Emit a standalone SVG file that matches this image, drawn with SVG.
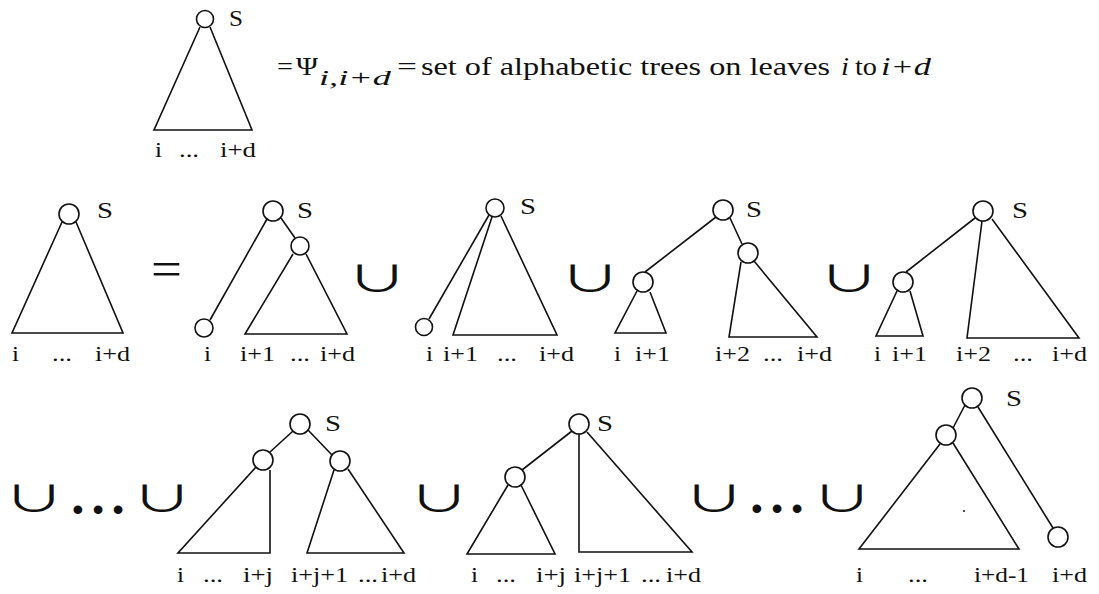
<svg xmlns="http://www.w3.org/2000/svg" width="1099" height="594" viewBox="0 0 1099 594">
<style>
  .e { fill: none; stroke: #111; stroke-width: 1.6; stroke-linejoin: miter; }
  .n { fill: #fff; stroke: #111; stroke-width: 1.6; }
  .t { font-family: "Liberation Serif", "Times New Roman", serif; font-size: 22px; fill: #111; }
  .s { font-family: "Liberation Serif", "Times New Roman", serif; font-size: 23px; fill: #111; }
  .q { font-family: "Liberation Serif", "Times New Roman", serif; font-size: 25px; fill: #111; }
  .it { font-style: italic; }
  .u { font-family: "Noto Sans CJK JP", "DejaVu Sans", sans-serif; font-size: 44px; fill: #111; text-anchor: middle; }
  .d { font-family: "Liberation Sans", sans-serif; font-size: 32px; fill: #111; text-anchor: middle; }
</style>
<rect width="1099" height="594" fill="#fff"/>

<!-- Top definition -->
<g id="def-tree">
  <path class="e" d="M200,27 L154,130 L252,130 L210,27"/>
  <circle class="n" cx="205" cy="19" r="8.5"/>
  <text class="s" x="229" y="26" textLength="14" lengthAdjust="spacingAndGlyphs">S</text>
  <text class="t" x="155" y="157" textLength="7" lengthAdjust="spacingAndGlyphs">i</text>
  <text class="t" x="179" y="157" textLength="20" lengthAdjust="spacingAndGlyphs">...</text>
  <text class="t" x="220" y="157" textLength="36" lengthAdjust="spacingAndGlyphs">i+d</text>
</g>
<g id="def-text">
  <text class="q" x="277" y="75" textLength="16" lengthAdjust="spacingAndGlyphs">=</text>
  <text class="q" x="296" y="75" textLength="22" lengthAdjust="spacingAndGlyphs">Ψ</text>
  <text class="t it" x="319" y="85" textLength="72" lengthAdjust="spacingAndGlyphs">i,i+d</text>
  <text class="q" x="397" y="75" textLength="20" lengthAdjust="spacingAndGlyphs">=</text>
  <text class="q" x="421" y="75" textLength="409" lengthAdjust="spacingAndGlyphs">set of alphabetic trees on leaves</text>
  <text class="q it" x="841" y="75" textLength="8" lengthAdjust="spacingAndGlyphs">i</text>
  <text class="q" x="855" y="75" textLength="22" lengthAdjust="spacingAndGlyphs">to</text>
  <text class="q it" x="881" y="75" textLength="50" lengthAdjust="spacingAndGlyphs">i+d</text>
</g>

<!-- Row 2 -->
<g id="tree-A">
  <path class="e" d="M62,222 L12,333 L123,333 L76,222"/>
  <circle class="n" cx="69" cy="214" r="10"/>
  <text class="s" x="97" y="218" textLength="16" lengthAdjust="spacingAndGlyphs">S</text>
  <text class="t" x="12" y="361" textLength="7" lengthAdjust="spacingAndGlyphs">i</text>
  <text class="t" x="52" y="361" textLength="20" lengthAdjust="spacingAndGlyphs">...</text>
  <text class="t" x="95" y="361" textLength="35" lengthAdjust="spacingAndGlyphs">i+d</text>
</g>
<text class="q" x="151" y="286" textLength="31" lengthAdjust="spacingAndGlyphs" style="font-size:50px">=</text>

<g id="tree-B">
  <path class="e" d="M267,219 L210,320"/>
  <path class="e" d="M281,218 L295,238"/>
  <path class="e" d="M293,254 L245,334 L347,334 L306,254"/>
  <circle class="n" cx="273" cy="211" r="10"/>
  <circle class="n" cx="300" cy="246" r="9"/>
  <circle class="n" cx="204" cy="328" r="9"/>
  <text class="s" x="297" y="218" textLength="16" lengthAdjust="spacingAndGlyphs">S</text>
  <text class="t" x="204" y="361" textLength="7" lengthAdjust="spacingAndGlyphs">i</text>
  <text class="t" x="240" y="361" textLength="35" lengthAdjust="spacingAndGlyphs">i+1</text>
  <text class="t" x="290" y="361" textLength="20" lengthAdjust="spacingAndGlyphs">...</text>
  <text class="t" x="320" y="361" textLength="35" lengthAdjust="spacingAndGlyphs">i+d</text>
</g>
<text class="u" transform="translate(377,292) scale(1.38,0.82)">∪</text>

<g id="tree-C">
  <path class="e" d="M489,215 L429,319"/>
  <path class="e" d="M492,217 L453,335 L557,335 L501,216"/>
  <circle class="n" cx="495" cy="208" r="9"/>
  <circle class="n" cx="424" cy="327" r="8.5"/>
  <text class="s" x="520" y="214" textLength="16" lengthAdjust="spacingAndGlyphs">S</text>
  <text class="t" x="426" y="361" textLength="7" lengthAdjust="spacingAndGlyphs">i</text>
  <text class="t" x="443" y="361" textLength="35" lengthAdjust="spacingAndGlyphs">i+1</text>
  <text class="t" x="497" y="361" textLength="20" lengthAdjust="spacingAndGlyphs">...</text>
  <text class="t" x="539" y="361" textLength="35" lengthAdjust="spacingAndGlyphs">i+d</text>
</g>
<text class="u" transform="translate(590,292) scale(1.38,0.82)">∪</text>

<g id="tree-D">
  <path class="e" d="M716,217 L645,272"/>
  <path class="e" d="M730,218 L742,244"/>
  <path class="e" d="M637,291 L615,333 L666,333 L650,292"/>
  <path class="e" d="M741,262 L729,337 L817,337 L754,261"/>
  <circle class="n" cx="723" cy="210" r="10"/>
  <circle class="n" cx="643" cy="282" r="10"/>
  <circle class="n" cx="748" cy="253" r="10"/>
  <text class="s" x="746" y="217" textLength="16" lengthAdjust="spacingAndGlyphs">S</text>
  <text class="t" x="614" y="361" textLength="7" lengthAdjust="spacingAndGlyphs">i</text>
  <text class="t" x="635" y="361" textLength="35" lengthAdjust="spacingAndGlyphs">i+1</text>
  <text class="t" x="715" y="361" textLength="35" lengthAdjust="spacingAndGlyphs">i+2</text>
  <text class="t" x="763" y="361" textLength="20" lengthAdjust="spacingAndGlyphs">...</text>
  <text class="t" x="797" y="361" textLength="35" lengthAdjust="spacingAndGlyphs">i+d</text>
</g>
<text class="u" transform="translate(849,292) scale(1.38,0.82)">∪</text>

<g id="tree-E">
  <path class="e" d="M975,218 L906,272"/>
  <path class="e" d="M897,291 L876,336 L923,336 L910,291"/>
  <path class="e" d="M982,221 L967,338 L1079,338 L992,219"/>
  <circle class="n" cx="983" cy="211" r="10"/>
  <circle class="n" cx="903" cy="282" r="10"/>
  <text class="s" x="1012" y="218" textLength="16" lengthAdjust="spacingAndGlyphs">S</text>
  <text class="t" x="874" y="361" textLength="7" lengthAdjust="spacingAndGlyphs">i</text>
  <text class="t" x="892" y="361" textLength="35" lengthAdjust="spacingAndGlyphs">i+1</text>
  <text class="t" x="956" y="361" textLength="35" lengthAdjust="spacingAndGlyphs">i+2</text>
  <text class="t" x="1013" y="361" textLength="20" lengthAdjust="spacingAndGlyphs">...</text>
  <text class="t" x="1052" y="361" textLength="35" lengthAdjust="spacingAndGlyphs">i+d</text>
</g>

<!-- Row 3 -->
<text class="u" transform="translate(34,512) scale(1.38,0.82)">∪</text>
<text class="d" x="98" y="520">• • •</text>
<text class="u" transform="translate(162,512) scale(1.38,0.82)">∪</text>

<g id="tree-F">
  <path class="e" d="M293,431 L270,452"/>
  <path class="e" d="M308,430 L332,455"/>
  <path class="e" d="M256,467 L178,553 L270,553 L270,470"/>
  <path class="e" d="M334,470 L307,553 L404,553 L348,469"/>
  <circle class="n" cx="300" cy="424" r="10"/>
  <circle class="n" cx="263" cy="460" r="10"/>
  <circle class="n" cx="340" cy="461" r="10"/>
  <text class="s" x="325" y="431" textLength="16" lengthAdjust="spacingAndGlyphs">S</text>
  <text class="t" x="177" y="582" textLength="7" lengthAdjust="spacingAndGlyphs">i</text>
  <text class="t" x="203" y="582" textLength="20" lengthAdjust="spacingAndGlyphs">...</text>
  <text class="t" x="243" y="582" textLength="30" lengthAdjust="spacingAndGlyphs">i+j</text>
  <text class="t" x="291" y="582" textLength="57" lengthAdjust="spacingAndGlyphs">i+j+1</text>
  <text class="t" x="358" y="582" textLength="20" lengthAdjust="spacingAndGlyphs">...</text>
  <text class="t" x="381" y="582" textLength="35" lengthAdjust="spacingAndGlyphs">i+d</text>
</g>
<text class="u" transform="translate(439,512) scale(1.38,0.82)">∪</text>

<g id="tree-G">
  <path class="e" d="M572,431 L522,470"/>
  <path class="e" d="M508,485 L467,554 L555,554 L521,485"/>
  <path class="e" d="M579,434 L579,552 L692,552 L587,432"/>
  <circle class="n" cx="579" cy="424" r="10"/>
  <circle class="n" cx="515" cy="477" r="10"/>
  <text class="s" x="597" y="431" textLength="16" lengthAdjust="spacingAndGlyphs">S</text>
  <text class="t" x="471" y="582" textLength="7" lengthAdjust="spacingAndGlyphs">i</text>
  <text class="t" x="496" y="582" textLength="20" lengthAdjust="spacingAndGlyphs">...</text>
  <text class="t" x="536" y="582" textLength="30" lengthAdjust="spacingAndGlyphs">i+j</text>
  <text class="t" x="574" y="582" textLength="57" lengthAdjust="spacingAndGlyphs">i+j+1</text>
  <text class="t" x="641" y="582" textLength="20" lengthAdjust="spacingAndGlyphs">...</text>
  <text class="t" x="666" y="582" textLength="35" lengthAdjust="spacingAndGlyphs">i+d</text>
</g>
<text class="u" transform="translate(714,512) scale(1.38,0.82)">∪</text>
<text class="d" x="777" y="519">• • •</text>
<text class="u" transform="translate(842,512) scale(1.38,0.82)">∪</text>

<g id="tree-H">
  <path class="e" d="M965,405 L953,428"/>
  <path class="e" d="M978,407 L1053,528"/>
  <path class="e" d="M940,444 L859,549 L1019,549 L953,443"/>
  <circle class="n" cx="972" cy="398" r="10"/>
  <circle class="n" cx="946" cy="435" r="10"/>
  <circle class="n" cx="1058" cy="537" r="10"/>
  <circle cx="964" cy="511" r="1" fill="#111"/>
  <text class="s" x="1006" y="406" textLength="16" lengthAdjust="spacingAndGlyphs">S</text>
  <text class="t" x="856" y="582" textLength="7" lengthAdjust="spacingAndGlyphs">i</text>
  <text class="t" x="908" y="582" textLength="20" lengthAdjust="spacingAndGlyphs">...</text>
  <text class="t" x="974" y="582" textLength="55" lengthAdjust="spacingAndGlyphs">i+d-1</text>
  <text class="t" x="1052" y="582" textLength="35" lengthAdjust="spacingAndGlyphs">i+d</text>
</g>
</svg>
